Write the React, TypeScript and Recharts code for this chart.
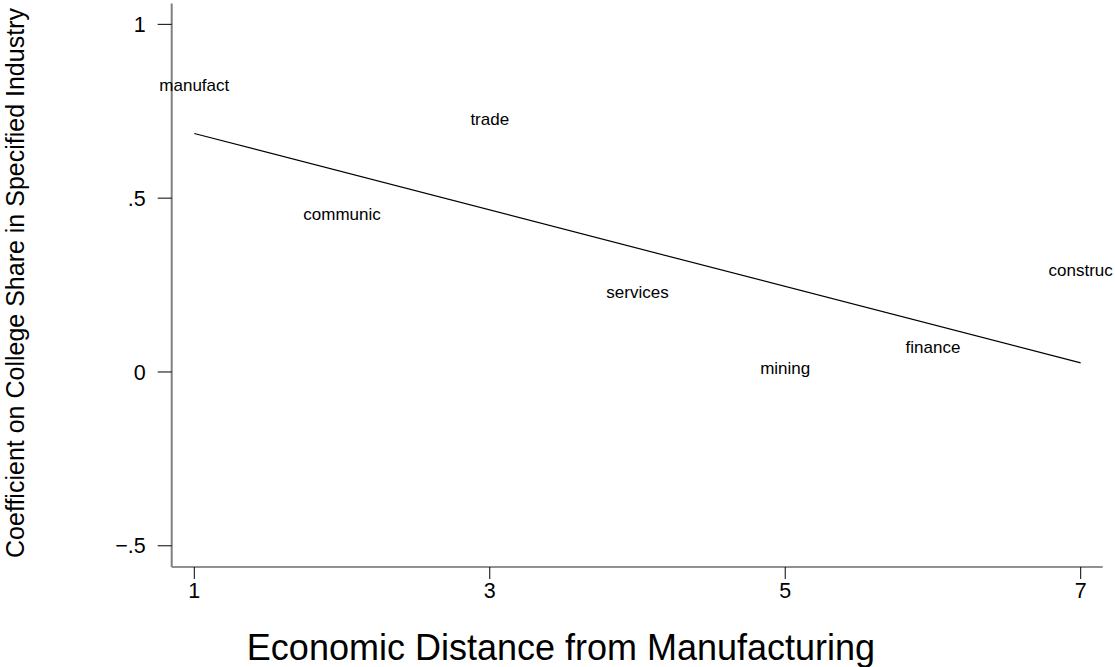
import React from 'react';
import { ComposedChart, Scatter, XAxis, YAxis } from 'recharts';

const industries = ['manufact', 'communic', 'trade', 'services', 'mining', 'finance', 'construc'];
const distance = [1, 2, 3, 4, 5, 6, 7];
const coefficient = [0.824, 0.453, 0.725, 0.228, 0.009, 0.071, 0.291];

const fitX = [1, 7];
const fitY = [0.686, 0.026];

const xTicks = [1, 3, 5, 7];
const yTicks = [-0.5, 0, 0.5, 1];
const yTickLabels: Record<string, string> = { '-0.5': '\u2212.5', '0': '0', '0.5': '.5', '1': '1' };

const xTitle = 'Economic Distance from Manufacturing';
const yTitle = 'Coefficient on College Share in Specified Industry';

const labelData = industries.map((name, i) => ({ x: distance[i], y: coefficient[i], name }));
const fitData = fitX.map((x, i) => ({ x, y: fitY[i] }));

const FONT = '"Liberation Sans", Arial, Helvetica, sans-serif';

const LabelShape = (props: any) => (
  <text
    x={props.cx}
    y={props.cy}
    dy={5.5}
    textAnchor="middle"
    fontSize={17}
    fontFamily={FONT}
    fill="#000"
  >
    {props.payload.name}
  </text>
);

const NoShape = () => <g />;

export default function App() {
  return (
    <div style={{ position: 'absolute', left: 0, top: 0, width: 1115, height: 667, background: '#fff' }}>
      <ComposedChart
        width={1115}
        height={667}
        margin={{ top: 3.5, right: 12.3, bottom: 0, left: 0 }}
        style={{ fontFamily: FONT }}
      >
        <XAxis
          type="number"
          dataKey="x"
          domain={[0.847, 7.149]}
          ticks={xTicks}
          height={100}
          axisLine={{ stroke: '#222', strokeWidth: 1.2 }}
          tickLine={{ stroke: '#000', strokeWidth: 1 }}
          tickSize={12}
          tickMargin={4}
          tick={{ fontSize: 21.5, fill: '#000', fontFamily: FONT }}
          label={(p: any) => (
            <text x={561} y={660} textAnchor="middle" fontSize={36} fontFamily={FONT} fill="#000">
              {xTitle}
            </text>
          )}
        />
        <YAxis
          type="number"
          dataKey="y"
          domain={[-0.561, 1.06]}
          ticks={yTicks}
          width={171.7}
          axisLine={{ stroke: '#808080', strokeWidth: 2 }}
          tickLine={{ stroke: '#000', strokeWidth: 1 }}
          tickSize={14}
          tickMargin={12}
          tickFormatter={(v: number) => yTickLabels[String(v)] ?? String(v)}
          tick={{ fontSize: 21.5, fill: '#000', fontFamily: FONT }}
          label={(p: any) => (
            <text
              x={24}
              y={283}
              transform="rotate(-90 24 283)"
              textAnchor="middle"
              fontSize={25}
              fontFamily={FONT}
              fill="#000"
            >
              {yTitle}
            </text>
          )}
        />
        <Scatter
          data={fitData}
          line={{ stroke: '#000', strokeWidth: 1.2 }}
          shape={NoShape}
          isAnimationActive={false}
        />
        <Scatter data={labelData} shape={LabelShape} isAnimationActive={false} />
      </ComposedChart>
    </div>
  );
}
